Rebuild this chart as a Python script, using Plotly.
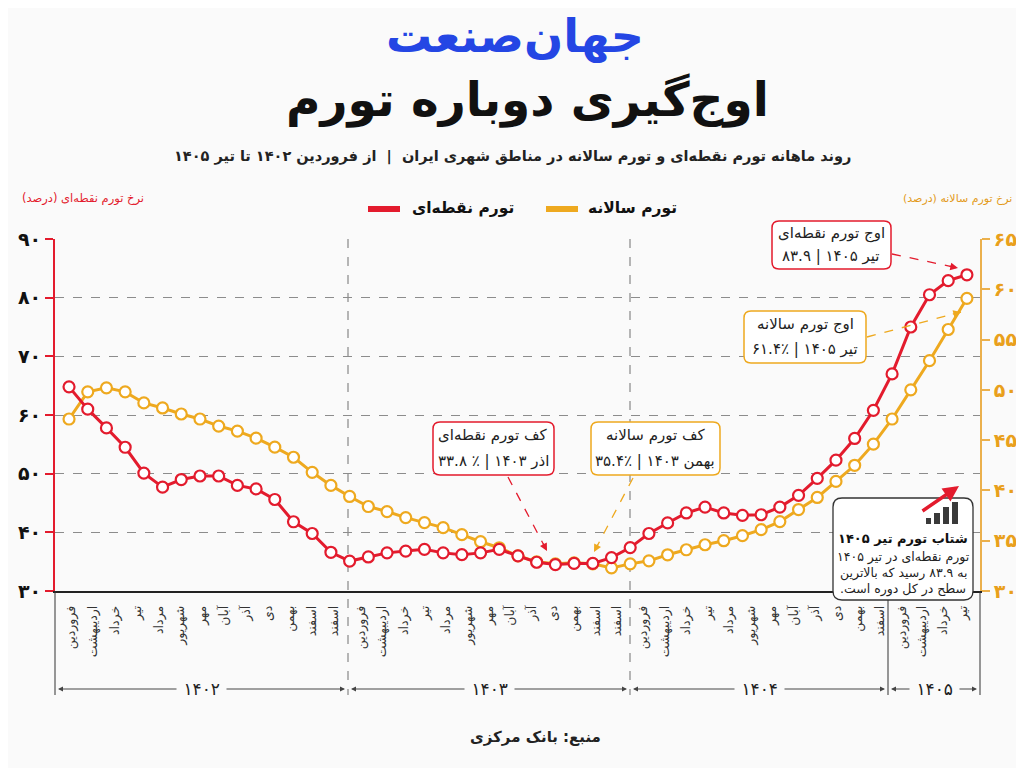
import math
import plotly.graph_objects as go

# ---- data -------------------------------------------------------------
months_1402 = ["فروردین", "اردیبهشت", "خرداد", "تیر", "مرداد", "شهریور", "مهر",
               "آبان", "آذر", "دی", "بهمن", "اسفند", "اسفند"]
months_1403 = ["فروردین", "اردیبهشت", "خرداد", "تیر", "مرداد", "شهریور", "مهر",
               "آبان", "آذر", "دی", "بهمن", "اسفند", "اسفند"]
months_1404 = ["فروردین", "اردیبهشت", "خرداد", "تیر", "مرداد", "شهریور", "مهر",
               "آبان", "آذر", "دی", "بهمن", "اسفند"]
months_1405 = ["فروردین", "اردیبهشت", "خرداد", "تیر"]
years = ["۱۴۰۲", "۱۴۰۳", "۱۴۰۴", "۱۴۰۵"]

# red line, left axis
point_inflation = [64.8, 61.0, 57.8, 54.5, 50.1, 47.7, 49.0, 49.6, 49.6, 48.0,
                   47.4, 45.6, 41.8, 39.8, 36.6, 35.1, 35.8, 36.5, 36.8, 37.1,
                   36.5, 36.2, 36.5, 37.1, 36.0, 34.9, 34.5, 34.7, 34.7, 35.7,
                   37.4, 39.8, 41.6, 43.3, 44.3, 43.3, 42.9, 43.0, 44.3, 46.3,
                   49.2, 52.3, 56.0, 60.8, 67.0, 75.0, 80.5, 82.9, 83.9]
# orange line, right axis
annual_inflation = [47.1, 49.8, 50.2, 49.8, 48.7, 48.2, 47.6, 47.1, 46.4, 45.9,
                    45.2, 44.3, 43.3, 41.8, 40.5, 39.4, 38.4, 37.9, 37.3, 36.8,
                    36.3, 35.6, 34.9, 34.3, 33.5, 32.9, 32.7, 32.8, 32.7, 32.3,
                    32.7, 33.0, 33.6, 34.1, 34.6, 35.0, 35.5, 36.1, 36.9, 38.1,
                    39.3, 40.9, 42.5, 44.6, 47.1, 50.0, 52.9, 56.0, 59.1]

left_ticks = [30, 40, 50, 60, 70, 80, 90]
right_ticks = [30, 35, 40, 45, 50, 55, 60, 65]

RED = "#e31b2d"
ORANGE = "#eea91f"
FONT = "DejaVu Sans"
BG = "#fafafa"

fa = str.maketrans("0123456789", "۰۱۲۳۴۵۶۷۸۹")


def rtl(s):
    return "\u202b" + s + "\u202c"


def ltr(s):
    return "\u202a" + s + "\u202c"


x = list(range(len(point_inflation)))

# month labels spread over each year block (in point-index units)
month_spans = [(0.1, 14.15), (15.6, 29.3), (30.7, 43.35), (44.5, 47.8)]
tickvals, ticktext = [], []
for months, (a, b) in zip([months_1402, months_1403, months_1404, months_1405], month_spans):
    step = (b - a) / (len(months) - 1)
    for i, m in enumerate(months):
        tickvals.append(a + i * step)
        ticktext.append(m)

# ---- pixel helpers: page coords, plot area 55..980 x 239..591 -----------
# the page body has an 8px margin, so the figure is 1016x760 drawn from (8, 8)
OFF = 8
L, R, T, B = 55, 980, 239, 591


def xp(px):
    return (px - L) / (R - L)


def yp(py):
    return (B - py) / (B - T)


shapes, annotations = [], []


def text(px, py, s, size=13, color="#222", weight="normal", xanchor="center", bg=None):
    a = dict(x=xp(px), y=yp(py), xref="paper", yref="paper", text=s, showarrow=False,
             xanchor=xanchor, yanchor="middle",
             font=dict(family=FONT, size=size, color=color, weight=weight))
    if bg:
        a["bgcolor"] = bg
    annotations.append(a)


def rbox(x0, y0, x1, y1, color, width=1.5, r=7):
    w, h = (x1 - x0) / 2, (y1 - y0) / 2
    path = (f"M{-w + r},{-h} L{w - r},{-h} Q{w},{-h} {w},{-h + r} L{w},{h - r} "
            f"Q{w},{h} {w - r},{h} L{-w + r},{h} Q{-w},{h} {-w},{h - r} "
            f"L{-w},{-h + r} Q{-w},{-h} {-w + r},{-h} Z")
    shapes.append(dict(type="path", xref="paper", yref="paper", xsizemode="pixel",
                       ysizemode="pixel", xanchor=xp((x0 + x1) / 2), yanchor=yp((y0 + y1) / 2),
                       path=path, fillcolor="white", line=dict(color=color, width=width),
                       layer="above"))


def dashed_arrow(sx, sy, tx, ty, color):
    shapes.append(dict(type="line", xref="paper", yref="paper", x0=xp(sx), y0=yp(sy),
                       x1=xp(tx), y1=yp(ty), line=dict(color=color, width=1.3, dash="dash"),
                       layer="above"))
    d = math.hypot(sx - tx, sy - ty)
    annotations.append(dict(x=xp(tx), y=yp(ty), xref="paper", yref="paper", text="",
                            showarrow=True, ax=(sx - tx) / d * 10, ay=(sy - ty) / d * 10,
                            arrowhead=2, arrowsize=1.1, arrowwidth=1.4, arrowcolor=color))


# ---- header ----------------------------------------------------------
text(515, 36, "جهان\u200cصنعت", size=46, color="#2446e4", weight="bold")
text(527, 100, "اوج\u200cگیری دوباره تورم", size=47, color="#111", weight="bold")
text(512, 156, rtl("روند ماهانه تورم نقطه\u200cای و تورم سالانه در مناطق شهری ایران  |  "
                   "از فروردین ۱۴۰۲ تا تیر ۱۴۰۵"), size=14.5, color="#222", weight="bold")

# axis titles
text(83, 198, rtl("نرخ تورم نقطه\u200cای (درصد)"), size=11.5, color=RED)
text(957, 198, rtl("نرخ تورم سالانه (درصد)"), size=11, color="#e39a1a")

# legend
shapes.append(dict(type="line", xref="paper", yref="paper", x0=xp(368), x1=xp(400),
                   y0=yp(209), y1=yp(209), line=dict(color=RED, width=6)))
text(410, 208, "تورم نقطه\u200cای", size=15.5, color="#111", weight="bold", xanchor="left")
shapes.append(dict(type="line", xref="paper", yref="paper", x0=xp(546), x1=xp(578),
                   y0=yp(209), y1=yp(209), line=dict(color=ORANGE, width=6)))
text(586, 208, "تورم سالانه", size=15.5, color="#111", weight="bold", xanchor="left")

# ---- year separators & brackets -----------------------------------------
for px in [348, 630]:
    shapes.append(dict(type="line", xref="paper", yref="paper", x0=xp(px), x1=xp(px),
                       y0=yp(T), y1=yp(695), line=dict(color="#888", width=1.2, dash="dash"),
                       layer="below"))
for px in [L, 888, R]:
    shapes.append(dict(type="line", xref="paper", yref="paper", x0=xp(px), x1=xp(px),
                       y0=yp(B), y1=yp(695), line=dict(color="#333", width=1)))

brackets = [(58, 345), (351, 627), (633, 885), (891, 977)]
for yr, (a, b) in zip(years, brackets):
    c = (a + b) / 2
    for end in (a, b):
        annotations.append(dict(x=xp(end), y=yp(689), xref="paper", yref="paper", text="",
                                showarrow=True, ax=c - end, ay=0, arrowhead=2, arrowsize=1,
                                arrowwidth=1, arrowcolor="#444"))
    text(c, 689, " " + yr + " ", size=17, color="#222", bg=BG)

text(535, 737, rtl("منبع: بانک مرکزی"), size=15, color="#222", weight="bold")

# ---- callout boxes -----------------------------------------------------
BOX_FONT = 15

rbox(772, 221, 891, 269, RED)
text(831, 233, rtl("اوج تورم نقطه\u200cای"), size=BOX_FONT)
text(831, 256, rtl("تیر ۱۴۰۵ | ۸۳.۹"), size=BOX_FONT)
dashed_arrow(892, 254, 958, 268, RED)

rbox(744, 311, 866, 363, ORANGE)
text(805, 324, rtl("اوج تورم سالانه"), size=BOX_FONT)
text(805, 349, rtl("تیر ۱۴۰۵ | " + ltr("۶۱.۴٪")), size=BOX_FONT)
dashed_arrow(867, 337, 961, 312, ORANGE)

rbox(433, 422, 554, 475, RED)
text(493, 435, rtl("کف تورم نقطه\u200cای"), size=BOX_FONT)
text(493, 461, rtl("اذر ۱۴۰۳ | " + ltr("۳۳.۸ ٪")), size=BOX_FONT)
dashed_arrow(508, 477, 547, 551, RED)

rbox(591, 422, 720, 475, ORANGE)
text(655, 435, rtl("کف تورم سالانه"), size=BOX_FONT)
text(655, 461, rtl("بهمن ۱۴۰۳ | " + ltr("۳۵.۴٪")), size=BOX_FONT)
dashed_arrow(633, 478, 594, 552, ORANGE)

# info box with small rising-bars icon
rbox(833, 498, 973, 600, "#333", width=1.3, r=9)
for (bx0, bx1, top) in [(926, 931, 518), (934, 940, 513), (943, 949, 507), (952, 958, 502)]:
    shapes.append(dict(type="rect", xref="paper", yref="paper", x0=xp(bx0), x1=xp(bx1),
                       y0=yp(524), y1=yp(top), fillcolor="#3a3a3a", line=dict(width=0),
                       layer="above"))
annotations.append(dict(x=xp(959), y=yp(486), xref="paper", yref="paper", text="",
                        showarrow=True, ax=-38, ay=26, arrowhead=2, arrowsize=0.9,
                        arrowwidth=3.5, arrowcolor=RED))
text(903, 539, rtl("شتاب تورم تیر ۱۴۰۵"), size=13, color="#111", weight="bold")
text(903, 557, rtl("تورم نقطه\u200cای در تیر ۱۴۰۵"), size=12.5)
text(903, 573, rtl("به ۸۳.۹ رسید که بالاترین"), size=12.5)
text(903, 589, rtl("سطح در کل دوره است."), size=12.5)

# ---- traces --------------------------------------------------------------
fig = go.Figure()
fig.add_trace(go.Scatter(
    x=x, y=annual_inflation, yaxis="y", mode="lines+markers", name="تورم سالانه",
    line=dict(color=ORANGE, width=3),
    marker=dict(size=11, color="white", line=dict(color=ORANGE, width=2.2)),
    cliponaxis=False))
fig.add_trace(go.Scatter(
    x=x, y=point_inflation, yaxis="y2", mode="lines+markers", name="تورم نقطه\u200cای",
    line=dict(color=RED, width=3),
    marker=dict(size=11, color="white", line=dict(color=RED, width=2.2)),
    cliponaxis=False))

fig.update_layout(
    width=1024 - OFF, height=768 - OFF,
    margin=dict(l=L - OFF, r=1024 - R, t=T - OFF, b=768 - B, autoexpand=False),
    paper_bgcolor=BG, plot_bgcolor="rgba(0,0,0,0)",
    showlegend=False,
    font=dict(family=FONT, color="#222"),
    xaxis=dict(range=[-0.75, 48.7], tickvals=tickvals, ticktext=ticktext, tickangle=-90,
               tickfont=dict(family=FONT, size=12.5, color="#333"),
               ticks="outside", ticklen=8, tickcolor="rgba(0,0,0,0)",
               showline=True, linecolor="#222", linewidth=1.5,
               showgrid=False, zeroline=False),
    yaxis=dict(range=[30, 65], side="right", tickvals=right_ticks,
               ticktext=[str(v).translate(fa) for v in right_ticks],
               tickfont=dict(family=FONT, size=19, color="#e9a01c", weight="bold"),
               ticks="outside", ticklen=8, tickwidth=2, tickcolor="#ebb04c",
               showline=True, linecolor="#ebb04c", linewidth=2,
               showgrid=False, zeroline=False),
    yaxis2=dict(range=[30, 90], side="left", overlaying="y", tickvals=left_ticks,
                ticktext=[str(v).translate(fa) for v in left_ticks],
                tickfont=dict(family=FONT, size=19, color="#111", weight="bold"),
                ticks="outside", ticklen=8, tickwidth=2, tickcolor=RED,
                showline=True, linecolor=RED, linewidth=2,
                showgrid=True, gridcolor="#8c8c8c", griddash="dash", gridwidth=1.1,
                zeroline=False),
    shapes=shapes,
    annotations=annotations,
)

fig.write_html("out.html")
